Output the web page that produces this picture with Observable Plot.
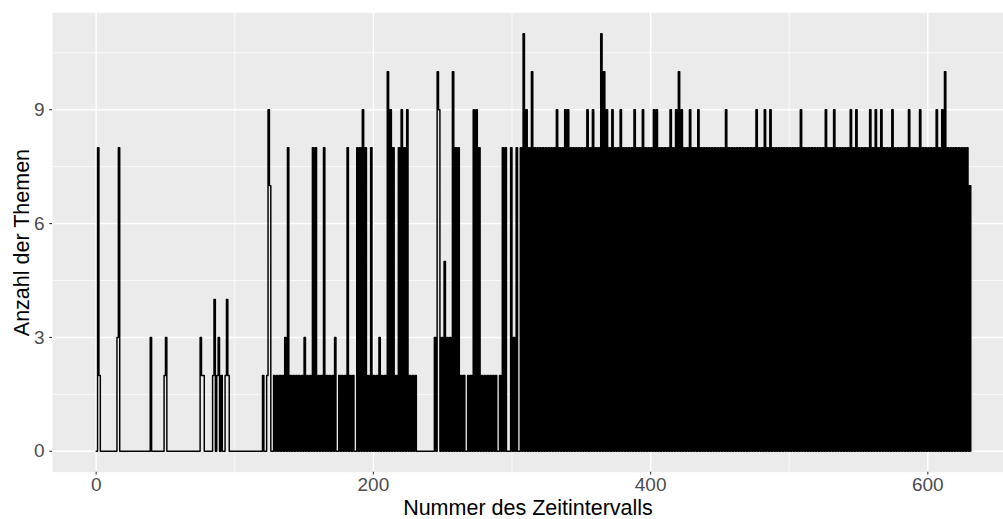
<!DOCTYPE html>
<html>
<head>
<meta charset="utf-8">
<script src="https://cdn.jsdelivr.net/npm/d3@7"></script>
<script src="https://cdn.jsdelivr.net/npm/@observablehq/plot@0.6"></script>
<style>
  html, body { margin: 0; padding: 0; background: #ffffff; }
</style>
</head>
<body>
<div id="chart"></div>
<script>
// Anzahl der Themen per Zeitintervall (index = Nummer des Zeitintervalls)
const counts000 = [
  0,8,2,0,0,0,0,0,0,0,
  0,0,0,0,0,3,8,0,0,0,
  0,0,0,0,0,0,0,0,0,0,
  0,0,0,0,0,0,0,0,0,3,
  0,0,0,0,0,0,0,0,0,2,
  3,0,0,0,0,0,0,0,0,0,
  0,0,0,0,0,0,0,0,0,0,
  0,0,0,0,0,3,2,2,0,0,
  0,0,0,0,2,4,0,2,3,0,
  2,0,0,2,4,2,0,0,0,0
];
const counts100 = [
  0,0,0,0,0,0,0,0,0,0,
  0,0,0,0,0,0,0,0,0,0,
  2,0,0,2,9,7,0,0,2,0,
  2,0,2,0,2,0,3,0,8,0,
  2,0,2,0,2,0,2,0,2,0,
  3,0,2,0,2,0,8,0,8,0,
  2,0,2,0,8,0,2,0,2,0,
  2,0,3,0,0,2,0,2,0,2,
  0,8,0,2,0,2,0,0,8,0,
  8,0,9,0,8,0,2,0,8,0
];
const counts200 = [
  2,0,2,0,3,0,2,0,2,0,
  10,0,9,0,8,0,2,0,8,0,
  9,0,8,0,9,0,2,0,2,0,
  2,0,0,0,0,0,0,0,0,0,
  0,0,0,0,3,0,10,9,0,3,
  0,5,0,3,0,3,0,10,0,8,
  0,8,0,2,0,2,0,0,2,0,
  2,0,9,0,9,0,8,0,2,0,
  2,0,2,0,2,0,2,0,2,0,
  0,2,0,8,0,8,0,0,0,8
];
const counts300 = [
  0,3,0,8,0,0,8,0,11,0,
  9,0,8,0,10,0,8,0,8,0,
  8,0,8,0,8,0,8,0,8,0,
  8,0,9,0,8,0,8,0,9,0,
  9,0,8,0,8,0,8,0,8,0,
  8,0,8,0,9,0,8,0,9,0,
  8,0,8,0,11,0,10,0,9,0,
  8,0,9,0,8,0,8,0,9,0,
  8,0,8,0,8,0,8,0,9,0,
  8,0,8,0,9,0,8,0,8,0
];
const counts400 = [
  8,0,9,0,9,0,8,0,8,0,
  8,0,8,0,9,0,8,0,9,0,
  10,0,9,0,8,0,8,0,9,0,
  8,0,8,0,9,0,8,0,8,0,
  8,0,8,0,8,0,8,0,8,0,
  8,0,8,0,9,0,8,0,8,0,
  8,0,8,0,8,0,8,0,8,0,
  8,0,8,0,8,0,9,0,8,0,
  8,0,9,0,8,0,9,0,8,0,
  8,0,8,0,8,0,8,0,8,0
];
const counts500 = [
  8,0,8,0,8,0,8,0,9,0,
  8,0,8,0,8,0,8,0,8,0,
  8,0,8,0,8,0,9,0,8,0,
  8,0,9,0,8,0,8,0,8,0,
  8,0,8,0,9,0,8,0,9,0,
  8,0,8,0,8,0,8,0,9,0,
  8,0,9,0,8,0,9,0,8,0,
  8,0,8,0,9,0,8,0,8,0,
  8,0,8,0,8,0,9,0,8,0,
  8,0,8,0,9,0,8,0,8,0
];
const counts600 = [
  8,0,8,0,8,0,9,0,8,0,
  9,0,10,0,8,0,8,0,8,0,
  8,0,8,0,8,0,8,0,8,0,
  7,0
];

const xTicks = [0, 200, 400, 600];
const xMinor = [100, 300, 500];
const yTicks = [0, 3, 6, 9];
const yMinor = [1.5, 4.5, 7.5, 10.5];
const xTitle = "Nummer des Zeitintervalls";
const yTitle = "Anzahl der Themen";

const counts = [...counts000, ...counts100, ...counts200, ...counts300, ...counts400, ...counts500, ...counts600];
const rows = counts.map((v, i) => ({interval: i, themes: v}));

const chart = Plot.plot({
  width: 1003,
  height: 519,
  marginLeft: 52,
  marginRight: 0,
  marginTop: 12.4,
  marginBottom: 47.3,
  style: {fontFamily: "'Liberation Sans', Arial, Helvetica, sans-serif", background: "#ffffff"},
  x: {domain: [-31.5, 654.6]},
  y: {domain: [-0.55, 11.55]},
  marks: [
    Plot.frame({fill: "#EBEBEB", stroke: "none"}),
    Plot.gridX(xMinor, {stroke: "#ffffff", strokeOpacity: 1, strokeWidth: 0.7}),
    Plot.gridY(yMinor, {stroke: "#ffffff", strokeOpacity: 1, strokeWidth: 0.7}),
    Plot.gridX(xTicks, {stroke: "#ffffff", strokeOpacity: 1, strokeWidth: 1.4}),
    Plot.gridY(yTicks, {stroke: "#ffffff", strokeOpacity: 1, strokeWidth: 1.4}),
    Plot.axisX(xTicks, {tickSize: 2.7, tickPadding: 2.3, fontSize: 19, fill: "#4D4D4D", stroke: "#333333", strokeWidth: 1.1, label: null}),
    Plot.axisY(yTicks, {tickSize: 2.7, tickPadding: 5.3, fontSize: 19, fill: "#4D4D4D", stroke: "#333333", strokeWidth: 1.1, label: null}),
    Plot.line(rows, {x: "interval", y: "themes", curve: "step-after", stroke: "#000000", strokeWidth: 1.45, strokeLinejoin: "round"}),
    Plot.text([xTitle], {text: d => d, frameAnchor: "bottom", lineAnchor: "middle", textAnchor: "middle", dy: 35.5, fontSize: 21.5, fill: "#000000"}),
    Plot.text([yTitle], {text: d => d, frameAnchor: "left", lineAnchor: "middle", textAnchor: "middle", dx: -30, rotate: -90, fontSize: 21.5, fill: "#000000"})
  ]
});
document.getElementById("chart").append(chart);
</script>
</body>
</html>
